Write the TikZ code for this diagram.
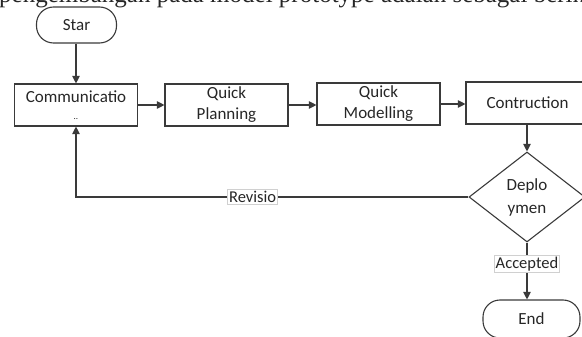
\documentclass[tikz,border=0pt]{standalone}
\usepackage{fontspec}
\setmainfont{Carlito}
\newfontfamily\serifdoc{Liberation Serif}
\usetikzlibrary{shapes.geometric,arrows.meta}
\definecolor{ln}{HTML}{3A3A3A}
\definecolor{lblborder}{HTML}{D0D0D0}
\tikzset{
  boxfont/.style={font=\fontsize{17}{21}\selectfont, text=black!85},
  procbox/.style={draw=ln, line width=1.1pt, rectangle, inner sep=0pt,
    minimum width=123pt, minimum height=42pt, align=center, boxfont},
  termbox/.style={draw=ln, line width=1.1pt, rectangle, rounded corners=17pt, inner sep=0pt,
    minimum width=80pt, minimum height=36pt, align=center, boxfont},
  decbox/.style={draw=ln, line width=1.1pt, diamond, inner sep=0pt,
    minimum width=116pt, minimum height=90pt, align=center,
    font=\fontsize{17}{23}\selectfont, text=black!85},
  lbl/.style={draw=lblborder, line width=0.6pt, fill=white, inner sep=1.5pt,
    font=\fontsize{16.5}{18}\selectfont, text=black!85},
  conn/.style={draw=ln, line width=1.1pt, -{Triangle[length=7.5pt,width=7.5pt]}},
  plainconn/.style={draw=ln, line width=1.1pt}
}
\begin{document}
\begin{tikzpicture}[x=1pt,y=-1pt]
\useasboundingbox (0,0) rectangle (582,337);
\clip (0,0) rectangle (582,337);
\node[anchor=base west, inner sep=0pt, font=\serifdoc\fontsize{25}{28}\selectfont, text=black!85] (doc) at (-1,3) {pengembangan pada model prototype adalah sebagai berikut};
\node[termbox] (star) at (76.5,25) {Star};
\node[procbox] (comm) at (76,105) {Communicatio\\[-4pt]{\fontsize{9}{9}\selectfont ..}};
\node[procbox] (qp) at (226.5,105) {Quick\\Planning};
\node[procbox] (qm) at (378.5,104) {Quick\\Modelling};
\node[procbox] (con) at (527.5,103) {Contruction};
\node[decbox] (dep) at (527,197) {Deplo\\ymen};
\node[termbox, minimum width=97pt, minimum height=38pt] (end) at (531.5,319) {End};
\draw[conn] (star.south -| comm.north) -- (comm.north);
\draw[conn] (comm.east) -- (qp.west);
\draw[conn] (qp.east) -- (qp.east -| qm.west);
\draw[conn] (qm.east) -- (qm.east -| con.west);
\draw[conn] (con.south -| dep.north) -- (dep.north);
\draw[conn] (dep.west) -- node[lbl, pos=0.55] (rev) {Revisio} (dep.west -| comm.south) -- (comm.south);
\draw[conn] (dep.south) -- node[lbl, pos=0.38] (acc) {Accepted} (dep.south |- end.north);
\end{tikzpicture}
\end{document}
